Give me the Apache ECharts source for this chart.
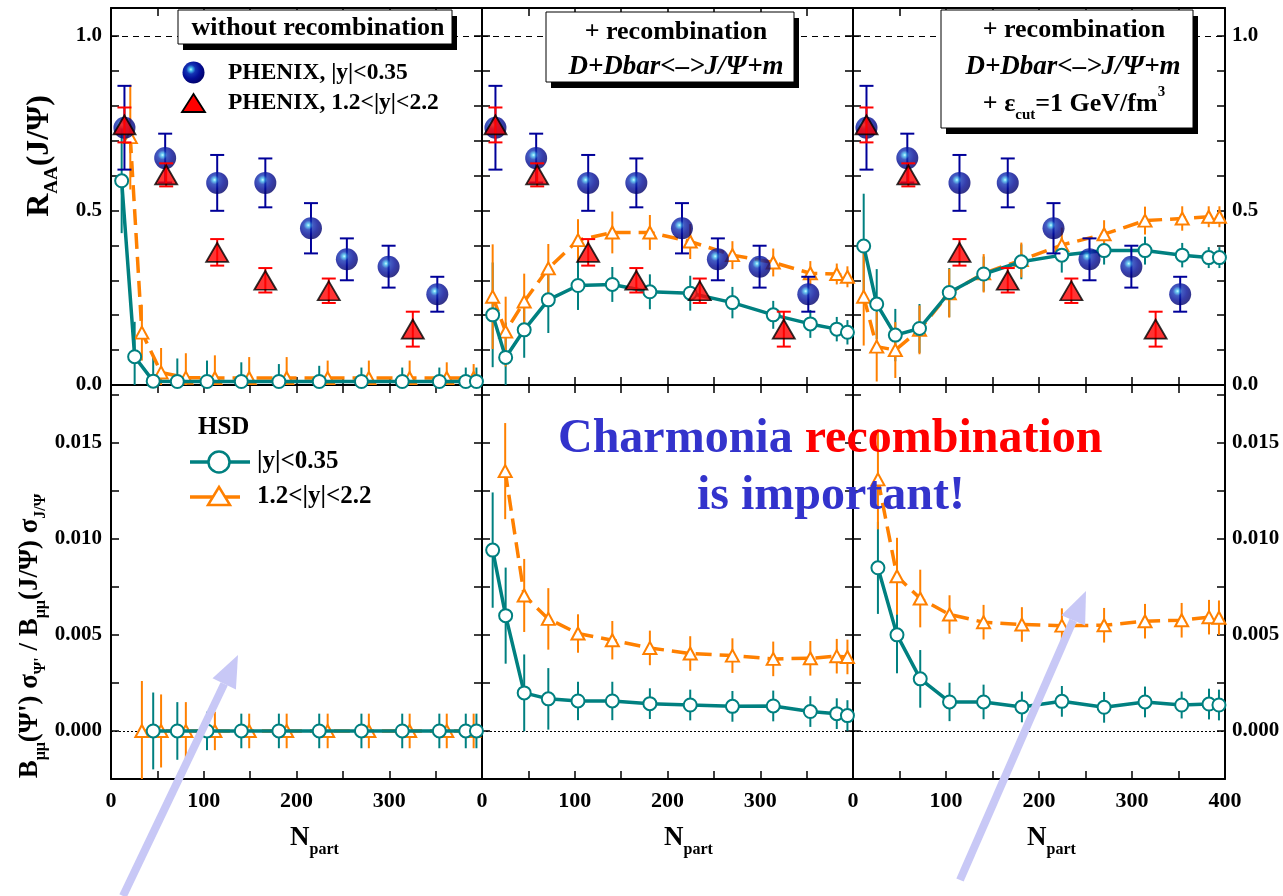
<!DOCTYPE html>
<html><head><meta charset="utf-8">
<script src="https://cdn.jsdelivr.net/npm/echarts@6/dist/echarts.min.js"></script>
<style>html,body{margin:0;padding:0;background:#fff}#c{width:1283px;height:896px}</style>
</head><body><div id="c"></div>
<script>
// ---------------- DATA ----------------
// PHENIX data (same in all three upper panels)
const phenixMidNpart = [14.5, 58.4, 114.5, 166.4, 215.6, 254.3, 299.3, 351.8];
const phenixMidRAA   = [0.737, 0.650, 0.579, 0.579, 0.449, 0.360, 0.339, 0.260];
const phenixMidErr   = [0.12, 0.07, 0.08, 0.07, 0.072, 0.06, 0.06, 0.05];
const phenixFwdNpart = [14.5, 59.5, 114.5, 166.4, 234.8, 325.4];
const phenixFwdRAA   = [0.745, 0.602, 0.380, 0.300, 0.270, 0.160];
const phenixFwdErr   = [0.05, 0.033, 0.038, 0.035, 0.035, 0.05];

// HSD Npart bins
const hsdNpart        = [11.5, 25.5, 45.5, 71.5, 103.5, 140.5, 181, 224.5, 270, 314, 354, 382.5, 394];
const hsdNpartFwdNoRec = [20.8, 33.3, 54, 80.7, 112, 149, 189.4, 233.6, 278, 322, 362, 391];

// Panel a: without recombination, R_AA
const raaMidNoRec    = [0.585, 0.081, 0.011, 0.010, 0.010, 0.010, 0.010, 0.010, 0.010, 0.010, 0.010, 0.010, 0.010];
const raaMidNoRecErr = [0.15, 0.10, 0.07, 0.066, 0.06, 0.055, 0.05, 0.045, 0.04, 0.04, 0.04, 0.04, 0.04];
const raaFwdNoRec    = [0.71, 0.15, 0.036, 0.021, 0.020, 0.020, 0.020, 0.020, 0.020, 0.020, 0.020, 0.020];
const raaFwdNoRecErr = [0.15, 0.08, 0.07, 0.07, 0.065, 0.06, 0.06, 0.05, 0.05, 0.05, 0.045, 0.04];

// Panel b: + recombination, R_AA
const raaMidRec    = [0.201, 0.079, 0.158, 0.244, 0.285, 0.288, 0.267, 0.263, 0.236, 0.201, 0.175, 0.160, 0.151];
const raaMidRecErr = [0.15, 0.10, 0.08, 0.095, 0.07, 0.05, 0.05, 0.05, 0.045, 0.04, 0.04, 0.035, 0.035];
const raaFwdRec    = [0.253, 0.153, 0.239, 0.334, 0.415, 0.437, 0.437, 0.411, 0.372, 0.351, 0.320, 0.318, 0.310];
const raaFwdRecErr = [0.15, 0.10, 0.08, 0.07, 0.06, 0.06, 0.05, 0.05, 0.04, 0.04, 0.035, 0.03, 0.03];

// Panel c: + recombination + eps_cut, R_AA
const raaMidCut    = [0.398, 0.232, 0.143, 0.162, 0.265, 0.318, 0.353, 0.372, 0.385, 0.385, 0.372, 0.365, 0.365];
const raaMidCutErr = [0.15, 0.10, 0.075, 0.07, 0.07, 0.05, 0.05, 0.05, 0.04, 0.04, 0.035, 0.03, 0.03];
const raaFwdCut    = [0.253, 0.110, 0.100, 0.158, 0.263, 0.320, 0.358, 0.401, 0.432, 0.471, 0.477, 0.482, 0.482];
const raaFwdCutErr = [0.14, 0.10, 0.08, 0.07, 0.07, 0.055, 0.05, 0.05, 0.04, 0.04, 0.035, 0.03, 0.03];

// Lower panels: psi'/J/psi ratio
const ratioMidNoRecNpart = [45.5, 71.5, 103.5, 140.5, 181, 224.5, 270, 314, 354, 382.5, 394];
const ratioMidNoRec      = [0, 0, 0, 0, 0, 0, 0, 0, 0, 0, 0];
const ratioMidNoRecErr   = [0.002, 0.0015, 0.001, 0.0009, 0.0009, 0.0009, 0.0009, 0.0009, 0.0009, 0.0009, 0.0009];
const ratioFwdNoRecNpart = [33.3, 54, 80.7, 112, 149, 189.4, 233.6, 278, 322, 362, 391];
const ratioFwdNoRec      = [0, 0, 0, 0, 0, 0, 0, 0, 0, 0, 0];
const ratioFwdNoRecErr   = [0.0026, 0.0019, 0.0015, 0.001, 0.0009, 0.0009, 0.0009, 0.0009, 0.0009, 0.0009, 0.0009];

const ratioMidRecNpart = [11.5, 25.5, 45.5, 71.5, 103.5, 140.5, 181, 224.5, 270, 314, 354, 382.5, 394];
const ratioMidRec      = [0.00941, 0.0060, 0.00198, 0.00167, 0.00156, 0.00156, 0.00142, 0.00135, 0.00128, 0.0013, 0.00101, 0.0009, 0.0008];
const ratioMidRecErr   = [0.003, 0.0025, 0.002, 0.0016, 0.001, 0.001, 0.0008, 0.0008, 0.0008, 0.0008, 0.0008, 0.0008, 0.0008];
const ratioFwdRecNpart = [25, 45.5, 71.5, 103.5, 140.5, 181, 224.5, 270, 314, 354, 382.5, 394];
const ratioFwdRec      = [0.01352, 0.00705, 0.00583, 0.00507, 0.00472, 0.00432, 0.00403, 0.00392, 0.00375, 0.00378, 0.00389, 0.00385];
const ratioFwdRecErr   = [0.0025, 0.0019, 0.0016, 0.001, 0.001, 0.0009, 0.0009, 0.0009, 0.0009, 0.0009, 0.0009, 0.0009];

const ratioMidCutNpart = [26.8, 47.3, 72.3, 103.8, 140.4, 181.6, 224.6, 270, 314, 353.4, 382.8, 393.5];
const ratioMidCut      = [0.00849, 0.0050, 0.00271, 0.00151, 0.00151, 0.00125, 0.00154, 0.00123, 0.00151, 0.00135, 0.0014, 0.00135];
const ratioMidCutErr   = [0.0024, 0.002, 0.0015, 0.001, 0.0009, 0.0008, 0.0008, 0.0008, 0.0008, 0.0007, 0.0008, 0.0008];
const ratioFwdCutNpart = [26.8, 47.3, 72.3, 103.8, 140.4, 181.6, 224.6, 270, 314, 353.4, 382.8, 393.5];
const ratioFwdCut      = [0.01309, 0.00805, 0.00689, 0.00606, 0.00566, 0.00554, 0.00548, 0.0055, 0.00571, 0.00576, 0.00592, 0.00589];
const ratioFwdCutErr   = [0.0026, 0.002, 0.0015, 0.001, 0.0009, 0.0009, 0.0009, 0.0009, 0.0009, 0.0009, 0.0009, 0.0009];

// Tick label steps
const xLabelStep = 100;
const yLabelStepTop = 0.5;
const yLabelStepBottom = 0.005;

// ---------------- STYLE / LAYOUT ----------------
const TEAL = '#008080', ORANGE = '#ff8000', NAVY = '#000099', RED = '#ff0000';
const FONT = '"Liberation Serif", "Times New Roman", serif';
const gridL = [111, 482, 853], gridW = [371, 371, 372];
const rowTop = [8, 385], rowH = [377, 394];
const yRange = [[0, 1.08, 0.1], [-0.0025, 0.018, 0.0025]];
const isMult = (v, s) => Math.abs(v / s - Math.round(v / s)) < 1e-6;

const grids = [], xAxes = [], yAxes = [], series = [];
const axLine = {show: true, onZero: false, lineStyle: {color: '#000', width: 2}};
const tick = {show: true, inside: true, length: 8, lineStyle: {color: '#000', width: 1.5}};
const lblBase = {fontFamily: FONT, fontWeight: 'bold', fontSize: 21, color: '#000'};

for (let r = 0; r < 2; r++) for (let c = 0; c < 3; c++) {
  const i = r * 3 + c;
  grids.push({left: gridL[c], top: rowTop[r], width: gridW[c], height: rowH[r]});
  xAxes.push({gridIndex: i, type: 'value', position: 'bottom', min: 0, max: 400, interval: 50,
    axisLine: axLine, axisTick: tick, splitLine: {show: false},
    axisLabel: Object.assign({show: r === 1, margin: 11,
      formatter: v => (isMult(v, xLabelStep) && (c === 2 || v < 399)) ? String(Math.round(v)) : ''}, lblBase, {fontSize: 22})});
  xAxes.push({gridIndex: i, type: 'value', position: 'top', min: 0, max: 400, interval: 50,
    axisLine: axLine, axisTick: tick, splitLine: {show: false}, axisLabel: {show: false}});
  const [ymin, ymax, yint] = yRange[r];
  const fmt = r === 0
    ? (v => (isMult(v, yLabelStepTop) && v > -1e-9 && v < 1.0001) ? (Math.abs(v) < 1e-9 ? 0 : v).toFixed(1) : '')
    : (v => (isMult(v, yLabelStepBottom) && v > -1e-9 && v < 0.0176) ? (Math.abs(v) < 1e-9 ? 0 : v).toFixed(3) : '');
  yAxes.push({gridIndex: i, type: 'value', position: 'left', min: ymin, max: ymax, interval: yint,
    axisLine: axLine, axisTick: tick, splitLine: {show: false},
    axisLabel: Object.assign({show: c === 0, margin: 9, formatter: fmt}, lblBase)});
  yAxes.push({gridIndex: i, type: 'value', position: 'right', min: ymin, max: ymax, interval: yint,
    axisLine: axLine, axisTick: tick, splitLine: {show: false},
    axisLabel: Object.assign({show: c === 2, margin: 7, formatter: fmt}, lblBase)});
}

function errSeries(i, xs, ys, es, color, cap, z) {
  const r = Math.floor(i / 3); const lo = yRange[r][0], hi = yRange[r][1];
  return {type: 'custom', xAxisIndex: 2 * i, yAxisIndex: 2 * i, z: z, silent: true, clip: true,
    data: xs.map((x, k) => [x, Math.max(lo, ys[k] - es[k]), Math.min(hi, ys[k] + es[k])]),
    encode: {x: 0, y: [1, 2]},
    renderItem: (p, api) => {
      const a = api.coord([api.value(0), api.value(1)]);
      const b = api.coord([api.value(0), api.value(2)]);
      const st = {stroke: color, lineWidth: 2};
      const ch = [{type: 'line', shape: {x1: a[0], y1: a[1], x2: b[0], y2: b[1]}, style: st}];
      if (cap) {
        ch.push({type: 'line', shape: {x1: a[0] - cap, y1: a[1], x2: a[0] + cap, y2: a[1]}, style: st});
        ch.push({type: 'line', shape: {x1: b[0] - cap, y1: b[1], x2: b[0] + cap, y2: b[1]}, style: st});
      }
      return {type: 'group', children: ch};
    }};
}

function hsdLine(i, xs, ys, mid, refLine) {
  const col = mid ? TEAL : ORANGE;
  const s = {type: 'line', name: mid ? 'HSD |y|<0.35' : 'HSD 1.2<|y|<2.2',
    xAxisIndex: 2 * i, yAxisIndex: 2 * i, z: mid ? 4 : 3, silent: true,
    data: xs.map((x, k) => [x, ys[k]]),
    symbol: mid ? 'circle' : 'triangle', symbolSize: mid ? 13 : [13, 12], showAllSymbol: true,
    itemStyle: {color: '#fff', borderColor: col, borderWidth: 2},
    lineStyle: {color: col, width: 3.5, type: mid ? 'solid' : [16, 8]}};
  if (refLine) {
    s.markLine = {silent: true, symbol: 'none', label: {show: false}, z: 1,
      lineStyle: refLine.style, data: [{yAxis: refLine.y}]};
  }
  return s;
}

const sphereStops = [
  {offset: 0, color: '#c0fcff'}, {offset: 0.1, color: '#48c0f0'}, {offset: 0.3, color: '#1434b4'},
  {offset: 0.6, color: '#040e98'}, {offset: 1, color: '#000064'}];
const sphere = {type: 'radial', x: 0.38, y: 0.36, r: 0.7, colorStops: sphereStops};

function phenix(i) {
  series.push(errSeries(i, phenixMidNpart, phenixMidRAA, phenixMidErr, NAVY, 7, 6));
  series.push({type: 'scatter', name: 'PHENIX, |y|<0.35', xAxisIndex: 2 * i, yAxisIndex: 2 * i, z: 7, silent: true,
    symbol: 'circle', symbolSize: 22, itemStyle: {color: sphere},
    data: phenixMidNpart.map((x, k) => [x, phenixMidRAA[k]])});
  series.push(errSeries(i, phenixFwdNpart, phenixFwdRAA, phenixFwdErr, RED, 7, 8));
  series.push({type: 'scatter', name: 'PHENIX, 1.2<|y|<2.2', xAxisIndex: 2 * i, yAxisIndex: 2 * i, z: 9, silent: true,
    symbol: 'triangle', symbolSize: [22, 19], itemStyle: {color: RED, borderColor: '#000', borderWidth: 1.8},
    data: phenixFwdNpart.map((x, k) => [x, phenixFwdRAA[k]])});
}

const dash1 = {y: 1.0, style: {color: '#000', type: [6, 5], width: 1.2}};
const dot0 = {y: 0, style: {color: '#000', type: [2, 2], width: 1}};

function hsdPanel(i, xm, ym, em, xf, yf, ef, ref) {
  series.push(errSeries(i, xm, ym, em, TEAL, 0, 2));
  series.push(errSeries(i, xf, yf, ef, ORANGE, 0, 2));
  series.push(hsdLine(i, xf, yf, false, null));
  series.push(hsdLine(i, xm, ym, true, ref));
}

hsdPanel(0, hsdNpart, raaMidNoRec, raaMidNoRecErr, hsdNpartFwdNoRec, raaFwdNoRec, raaFwdNoRecErr, dash1);
hsdPanel(1, hsdNpart, raaMidRec, raaMidRecErr, hsdNpart, raaFwdRec, raaFwdRecErr, dash1);
hsdPanel(2, hsdNpart, raaMidCut, raaMidCutErr, hsdNpart, raaFwdCut, raaFwdCutErr, dash1);
phenix(0); phenix(1); phenix(2);
hsdPanel(3, ratioMidNoRecNpart, ratioMidNoRec, ratioMidNoRecErr, ratioFwdNoRecNpart, ratioFwdNoRec, ratioFwdNoRecErr, dot0);
hsdPanel(4, ratioMidRecNpart, ratioMidRec, ratioMidRecErr, ratioFwdRecNpart, ratioFwdRec, ratioFwdRecErr, dot0);
hsdPanel(5, ratioMidCutNpart, ratioMidCut, ratioMidCutErr, ratioFwdCutNpart, ratioFwdCut, ratioFwdCutErr, dot0);

// ---------------- ANNOTATIONS ----------------
function txt(x, y, text, size, opts) {
  opts = opts || {};
  return {type: 'text', x: x, y: y, z: 60, rotation: opts.rot || 0, silent: true,
    style: {text: text, fill: opts.color || '#000', fontFamily: FONT, fontWeight: 'bold',
      fontStyle: opts.italic ? 'italic' : 'normal', fontSize: size, lineHeight: opts.lh || size + 4,
      align: opts.align || 'left', textAlign: opts.align || 'left',
      verticalAlign: 'middle', textVerticalAlign: 'middle', rich: opts.rich || {}}};
}
function subStyle(size, va) {
  return {fontFamily: FONT, fontWeight: 'bold', fontSize: size, lineHeight: size, verticalAlign: va, fill: '#000'};
}
function box(x, y, w, h) {
  return [
    {type: 'rect', z: 50, silent: true, shape: {x: x + 5, y: y + 6, width: w, height: h}, style: {fill: '#000'}},
    {type: 'rect', z: 51, silent: true, shape: {x: x, y: y, width: w, height: h}, style: {fill: '#fff', stroke: '#000', lineWidth: 1}}
  ];
}
const ARROW = '#c8c8f6';
function arrow(tail, tip) {
  const dx = tip[0] - tail[0], dy = tip[1] - tail[1], L = Math.hypot(dx, dy);
  const ux = dx / L, uy = dy / L, hl = 32, hw = 13;
  const bx = tip[0] - ux * hl, by = tip[1] - uy * hl;
  return [
    {type: 'line', z: 90, silent: true, shape: {x1: tail[0], y1: tail[1], x2: bx, y2: by}, style: {stroke: ARROW, lineWidth: 8}},
    {type: 'polygon', z: 90, silent: true, shape: {points: [tip, [bx - uy * hw, by + ux * hw], [bx + uy * hw, by - ux * hw]]}, style: {fill: ARROW}}
  ];
}

const graphics = [].concat(
  box(178, 10, 274, 34),
  [txt(318, 28, 'without recombination', 26, {align: 'center'})],
  box(546, 12, 248, 70),
  [txt(676, 32, '+ recombination', 26, {align: 'center'}),
   txt(676, 67, 'D+Dbar<–>J/Ψ+m', 27, {align: 'center', italic: true})],
  box(941, 10, 252, 118),
  [txt(1074, 30, '+ recombination', 26, {align: 'center'}),
   txt(1073, 67, 'D+Dbar<–>J/Ψ+m', 27, {align: 'center', italic: true}),
   txt(1074, 104, '+ ε{sub|cut}=1 GeV/fm{sup|3}', 26, {align: 'center', lh: 38,
     rich: {sub: subStyle(15, 'bottom'), sup: subStyle(15, 'top')}})],
  // PHENIX legend
  [{type: 'circle', z: 60, silent: true, shape: {cx: 193.5, cy: 72.5, r: 11},
    style: {fill: new echarts.graphic.RadialGradient(0.38, 0.36, 0.7, sphereStops)}},
   {type: 'polygon', z: 60, silent: true, shape: {points: [[193.5, 94], [182, 112], [205, 112]]},
    style: {fill: RED, stroke: '#000', lineWidth: 1.8}},
   txt(228, 73, 'PHENIX, |y|<0.35', 23.5),
   txt(228, 103, 'PHENIX, 1.2<|y|<2.2', 23.5)],
  // HSD legend
  [txt(198, 428, 'HSD', 25),
   {type: 'line', z: 60, silent: true, shape: {x1: 190, y1: 462, x2: 250, y2: 462}, style: {stroke: TEAL, lineWidth: 3.5}},
   {type: 'circle', z: 61, silent: true, shape: {cx: 219, cy: 462, r: 10.5}, style: {fill: '#fff', stroke: TEAL, lineWidth: 2.5}},
   txt(257, 462, '|y|<0.35', 25),
   {type: 'line', z: 60, silent: true, shape: {x1: 190, y1: 497, x2: 240, y2: 497}, style: {stroke: ORANGE, lineWidth: 3.5}},
   {type: 'polygon', z: 61, silent: true, shape: {points: [[219, 487], [208, 505], [230, 505]]}, style: {fill: '#fff', stroke: ORANGE, lineWidth: 2.5}},
   txt(257, 497, '1.2<|y|<2.2', 25)],
  // big message
  [txt(558, 440, '{b|Charmonia} {r|recombination}', 48, {color: '#3333cc', lh: 56,
     rich: {b: {fontFamily: FONT, fontWeight: 'bold', fontSize: 48, fill: '#3333cc'},
            r: {fontFamily: FONT, fontWeight: 'bold', fontSize: 48, fill: '#ff0000'}}}),
   txt(697, 497, 'is important!', 48, {color: '#3333cc', lh: 56})],
  // axis titles
  [txt(40, 156, 'R{sub|AA}(J/Ψ)', 32, {align: 'center', rot: Math.PI / 2, lh: 44, rich: {sub: subStyle(19, 'bottom')}}),
   txt(30, 636, 'B{sub|μμ}(Ψ\') σ{sub|Ψ\'} / B{sub|μμ}(J/Ψ) σ{sub|J/Ψ}', 27, {align: 'center', rot: Math.PI / 2, lh: 38, rich: {sub: subStyle(16, 'bottom')}}),
   txt(290, 838, 'N{sub|part}', 27, {lh: 40, rich: {sub: subStyle(16, 'bottom')}}),
   txt(664, 838, 'N{sub|part}', 27, {lh: 40, rich: {sub: subStyle(16, 'bottom')}}),
   txt(1027, 838, 'N{sub|part}', 27, {lh: 40, rich: {sub: subStyle(16, 'bottom')}})],
  arrow([123, 896], [238, 655]),
  arrow([960, 880], [1086, 591])
);

const chart = echarts.init(document.getElementById('c'), null, {renderer: 'canvas'});
chart.setOption({
  animation: false,
  backgroundColor: '#fff',
  grid: grids, xAxis: xAxes, yAxis: yAxes, series: series,
  graphic: {elements: graphics}
});
</script></body></html>
